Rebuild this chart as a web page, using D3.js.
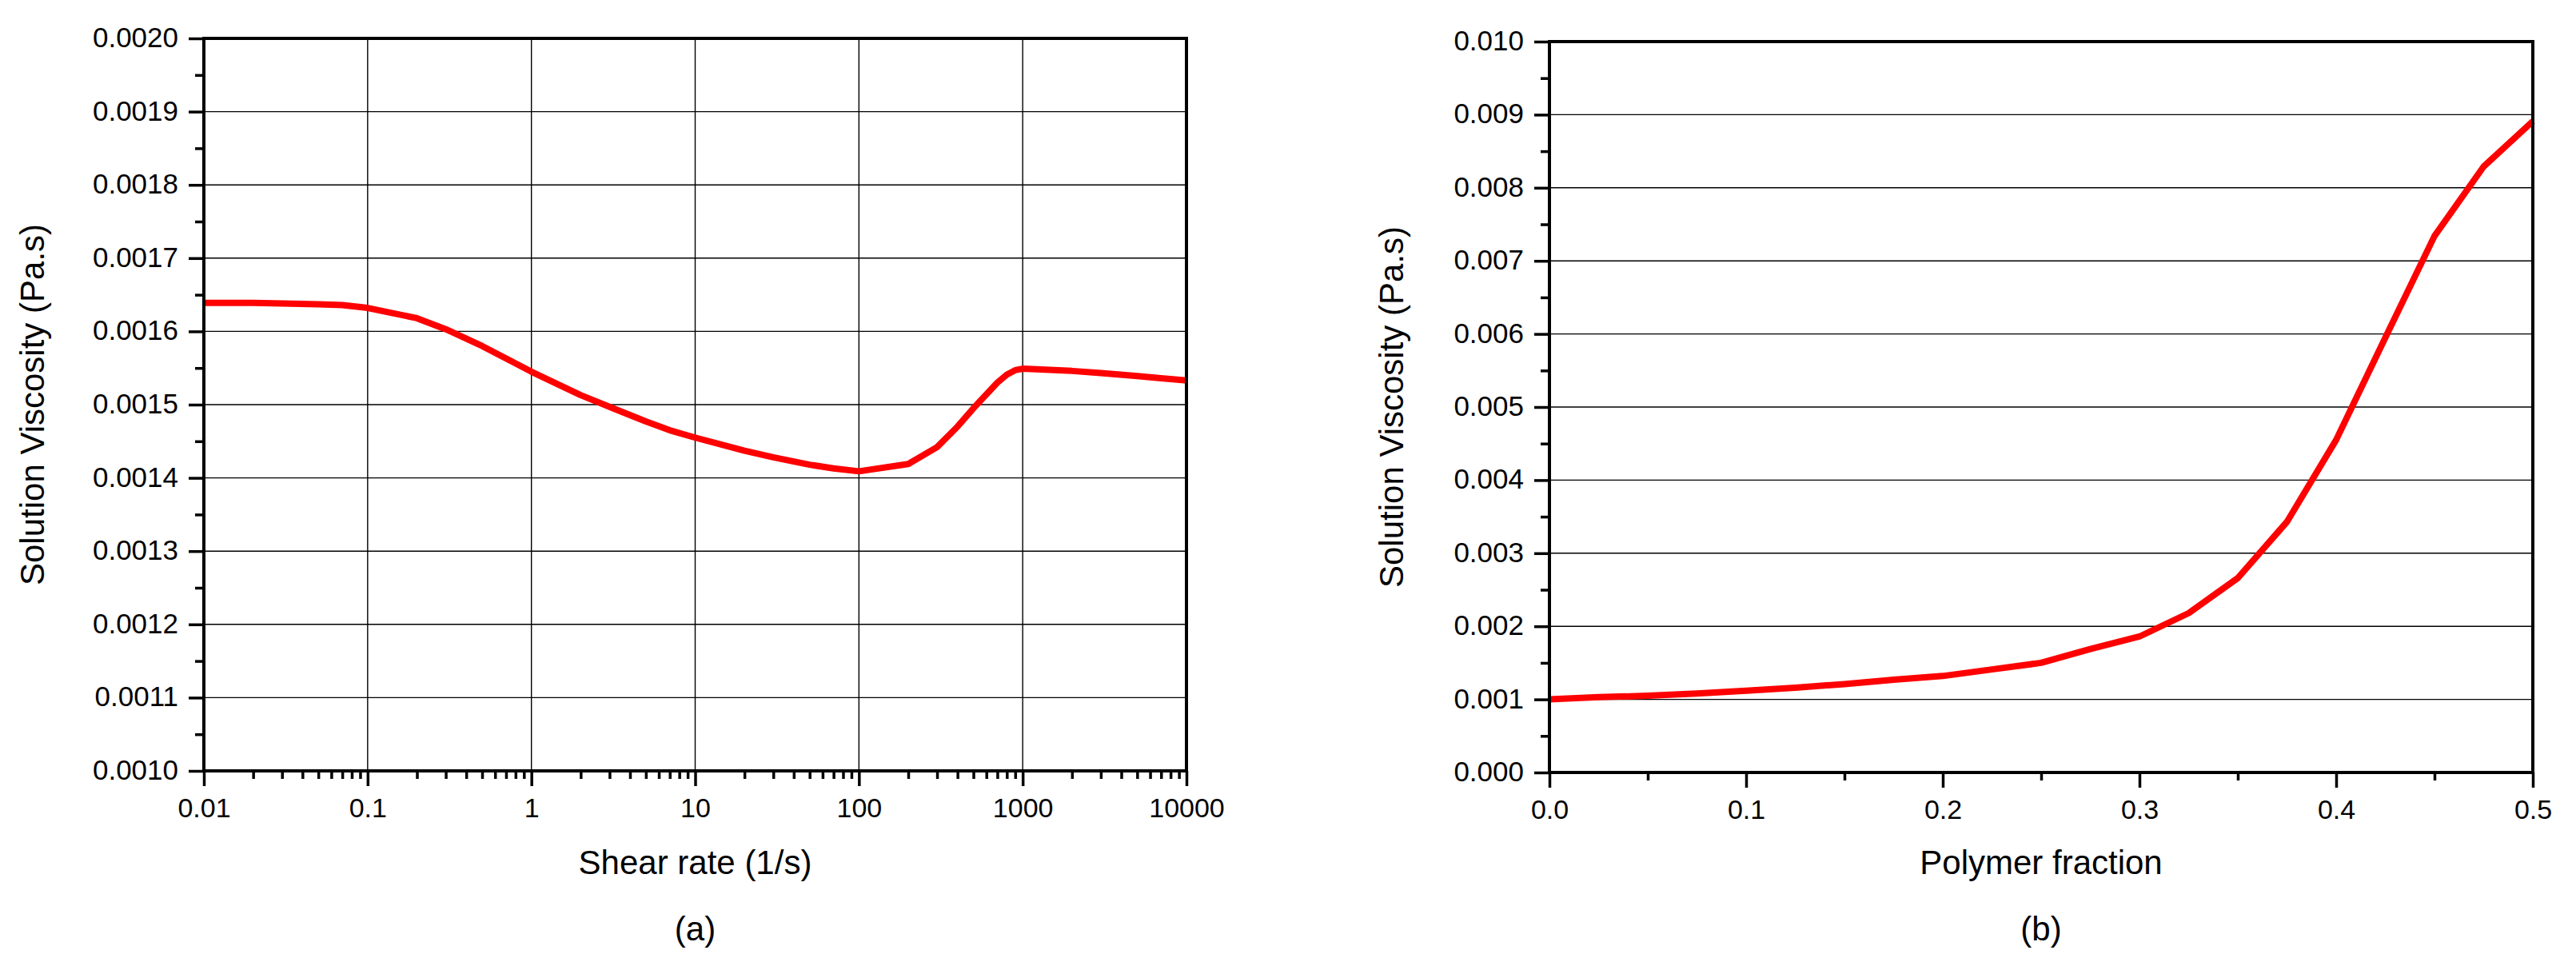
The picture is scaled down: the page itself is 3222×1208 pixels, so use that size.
<!DOCTYPE html>
<html>
<head>
<meta charset="utf-8">
<script src="https://cdn.jsdelivr.net/npm/d3@7"></script>
<style>
  body { margin: 0; background: #fff; }
  svg { display: block; font-family: "Liberation Sans", Arial, sans-serif; }
  .tick text { fill: #000; }
</style>
</head>
<body>
<div id="chart"></div>
<script>
// Panel (a): viscosity vs shear rate
const shearRate = [0.01, 0.02, 0.03, 0.05, 0.07, 0.1, 0.2, 0.3, 0.5, 0.7, 1, 2, 3, 5, 7, 10, 20, 30, 50, 70,
                   100, 200, 300, 400, 500, 700, 800, 900, 1000, 2000, 3000, 5000, 7000, 10000];
const viscosityA = [0.001639, 0.001639, 0.001638, 0.001637, 0.001636, 0.001632, 0.001618, 0.001603, 0.001580, 0.001563,
                    0.001545, 0.001513, 0.001497, 0.001477, 0.001465, 0.001455, 0.001437, 0.001428, 0.001418, 0.001413,
                    0.001409, 0.001419, 0.001442, 0.001470, 0.001495, 0.001530, 0.001541, 0.001547, 0.001549, 0.001546,
                    0.001543, 0.001539, 0.001536, 0.001533];
const shearTicks = [0.01, 0.1, 1, 10, 100, 1000, 10000];
const shearTickLabels = ["0.01", "0.1", "1", "10", "100", "1000", "10000"];
const viscTicksA = [0.0010, 0.0011, 0.0012, 0.0013, 0.0014, 0.0015, 0.0016, 0.0017, 0.0018, 0.0019, 0.0020];

// Panel (b): viscosity vs polymer fraction
const polymerFraction = [0, 0.025, 0.05, 0.075, 0.1, 0.125, 0.15, 0.175, 0.2, 0.225, 0.25, 0.275, 0.3,
                         0.325, 0.35, 0.375, 0.4, 0.425, 0.45, 0.475, 0.5];
const viscosityB = [0.00100, 0.00103, 0.00105, 0.00108, 0.00112, 0.00116, 0.00121, 0.00127, 0.00132, 0.00141,
                    0.00150, 0.00169, 0.00186, 0.00218, 0.00266, 0.00343, 0.00455, 0.00595, 0.00734, 0.00829, 0.00891];
const fractionTicks = [0.0, 0.1, 0.2, 0.3, 0.4, 0.5];
const viscTicksB = [0.000, 0.001, 0.002, 0.003, 0.004, 0.005, 0.006, 0.007, 0.008, 0.009, 0.010];

const W = 3222, H = 1208;
const svg = d3.select('#chart').append('svg')
    .attr('width', W)
    .attr('height', H);
svg.append('rect').attr('width', W).attr('height', H).attr('fill', '#fff');

function panel(cfg) {
    const width = cfg.right - cfg.left,
          height = cfg.bottom - cfg.top;
    const g = svg.append('g')
        .attr('transform', 'translate(' + cfg.left + ',' + cfg.top + ')');

    const x = cfg.xScale.range([0, width]);
    const y = d3.scaleLinear().domain(cfg.yDomain).range([height, 0]);

    // grid
    g.append('g').selectAll('line')
        .data(cfg.yTicks.slice(1, -1))
        .enter().append('line')
        .attr('x1', 0).attr('x2', width)
        .attr('y1', d => y(d)).attr('y2', d => y(d))
        .attr('stroke', '#000').attr('stroke-width', 1.4);
    if (cfg.xGrid) {
        g.append('g').selectAll('line')
            .data(cfg.xGrid)
            .enter().append('line')
            .attr('x1', d => x(d)).attr('x2', d => x(d))
            .attr('y1', 0).attr('y2', height)
            .attr('stroke', '#000').attr('stroke-width', 1.4);
    }

    // minor ticks
    g.append('g')
        .attr('transform', 'translate(0,' + height + ')')
        .call(d3.axisBottom(x).tickValues(cfg.xMinor).tickSize(10).tickSizeOuter(0).tickFormat(''))
        .call(a => a.select('.domain').remove())
        .selectAll('line').attr('stroke-width', 3.5);
    g.append('g')
        .call(d3.axisLeft(y).tickValues(cfg.yMinor).tickSize(11).tickSizeOuter(0).tickFormat(''))
        .call(a => a.select('.domain').remove())
        .selectAll('line').attr('stroke-width', 3.5);

    // major ticks + labels
    const xa = g.append('g')
        .attr('transform', 'translate(0,' + height + ')')
        .call(d3.axisBottom(x).tickValues(cfg.xTicks).tickSize(19).tickPadding(15)
            .tickSizeOuter(0).tickFormat(cfg.xFormat))
        .call(a => a.select('.domain').remove());
    xa.selectAll('line').attr('stroke-width', 3.5);
    xa.selectAll('text').style('font-size', '34px');

    const ya = g.append('g')
        .call(d3.axisLeft(y).tickValues(cfg.yTicks).tickSize(19).tickPadding(13)
            .tickSizeOuter(0).tickFormat(d3.format(cfg.yFormat)))
        .call(a => a.select('.domain').remove());
    ya.selectAll('line').attr('stroke-width', 3.5);
    ya.selectAll('text').style('font-size', '35px').attr('dy', '0.3em');

    // data line
    const pts = cfg.xs.map((d, i) => [d, cfg.ys[i]]);
    g.append('path')
        .datum(pts)
        .attr('fill', 'none')
        .attr('stroke', '#ff0000')
        .attr('stroke-width', 8)
        .attr('stroke-linejoin', 'round')
        .attr('d', d3.line().x(d => x(d[0])).y(d => y(d[1])));

    // frame
    g.append('rect')
        .attr('width', width).attr('height', height)
        .attr('fill', 'none').attr('stroke', '#000').attr('stroke-width', 4);

    // titles
    svg.append('text')
        .attr('x', (cfg.left + cfg.right) / 2).attr('y', 1093)
        .attr('text-anchor', 'middle').style('font-size', '42px')
        .text(cfg.xTitle);
    svg.append('text')
        .attr('transform', 'translate(' + cfg.yTitleX + ',' + (cfg.top + height / 2) + ') rotate(-90)')
        .attr('text-anchor', 'middle').style('font-size', '42px')
        .text('Solution Viscosity (Pa.s)');
    svg.append('text')
        .attr('x', (cfg.left + cfg.right) / 2).attr('y', 1176)
        .attr('text-anchor', 'middle').style('font-size', '42px')
        .text(cfg.caption);
}

// log minor ticks 2..9 for each decade
const logMinor = [];
shearTicks.slice(0, -1).forEach(t => {
    for (let k = 2; k <= 9; k++) logMinor.push(t * k);
});

panel({
    left: 255, right: 1484, top: 48, bottom: 964,
    xScale: d3.scaleLog().domain([0.01, 10000]),
    xTicks: shearTicks,
    xFormat: (d, i) => shearTickLabels[i],
    xMinor: logMinor,
    xGrid: shearTicks.slice(1, -1),
    yDomain: [0.0010, 0.0020],
    yTicks: viscTicksA,
    yMinor: viscTicksA.slice(0, -1).map(v => v + 0.00005),
    yFormat: '.4f',
    xs: shearRate, ys: viscosityA,
    xTitle: 'Shear rate (1/s)',
    yTitleX: 55,
    caption: '(a)'
});

panel({
    left: 1938, right: 3168, top: 52, bottom: 966,
    xScale: d3.scaleLinear().domain([0, 0.5]),
    xTicks: fractionTicks,
    xFormat: d3.format('.1f'),
    xMinor: fractionTicks.slice(0, -1).map(v => v + 0.05),
    xGrid: null,
    yDomain: [0, 0.010],
    yTicks: viscTicksB,
    yMinor: viscTicksB.slice(0, -1).map(v => v + 0.0005),
    yFormat: '.3f',
    xs: polymerFraction, ys: viscosityB,
    xTitle: 'Polymer fraction',
    yTitleX: 1755,
    caption: '(b)'
});
</script>
</body>
</html>
